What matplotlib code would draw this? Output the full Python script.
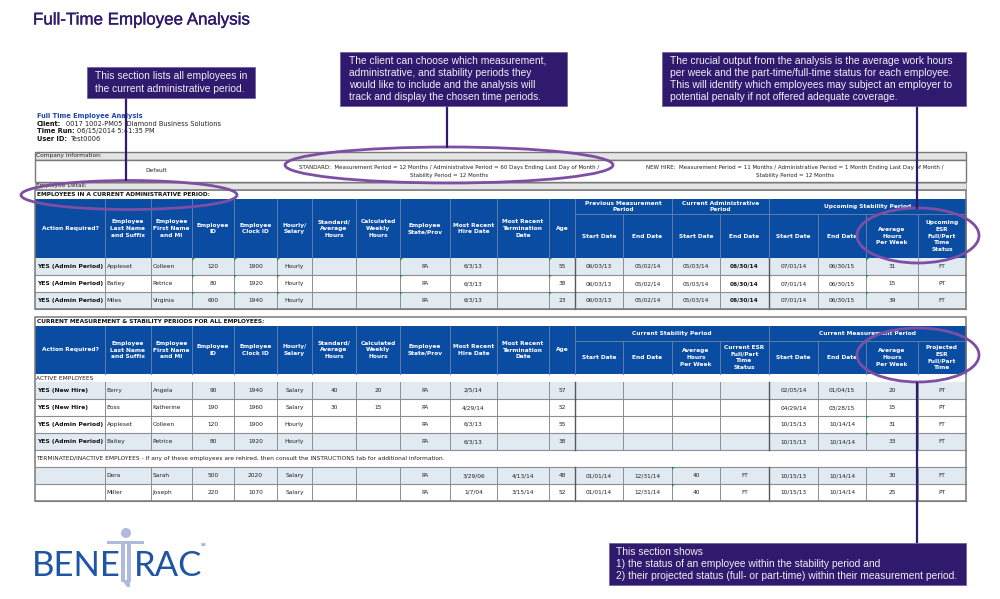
import matplotlib
matplotlib.use("Agg")
import matplotlib.pyplot as plt
import matplotlib.patheffects as pe
from matplotlib.patches import Rectangle, Ellipse, Circle, Polygon

# table contents
title = "Full-Time Employee Analysis"
report_name = "Full Time Employee Analysis"
report_info = [("Client:", "0017 1002-PM05  Diamond Business Solutions"),
               ("Time Run:", "06/15/2014 5:41:35 PM"),
               ("User ID:", "Test0006")]
standard_txt = ["STANDARD:  Measurement Period = 12 Months / Administrative Period = 60 Days Ending Last Day of Month /",
                "Stability Period = 12 Months"]
newhire_txt = ["NEW HIRE:  Measurement Period = 11 Months / Administrative Period = 1 Month Ending Last Day of Month /",
               "Stability Period = 12 Months"]

common_heads = ["Action Required?", "Employee\nLast Name\nand Suffix", "Employee\nFirst Name\nand MI", "Employee\nID",
                "Employee\nClock ID", "Hourly/\nSalary", "Standard/\nAverage\nHours", "Calculated\nWeekly\nHours",
                "Employee\nState/Prov", "Most Recent\nHire Date", "Most Recent\nTermination\nDate", "Age"]

groups1 = [("Previous Measurement\nPeriod", 12, 14), ("Current Administrative\nPeriod", 14, 16), ("Upcoming Stability Period", 16, 20)]
subs1 = ["Start Date", "End Date", "Start Date", "End Date", "Start Date", "End Date",
         "Average\nHours\nPer Week", "Upcoming\nESR\nFull/Part\nTime\nStatus"]
rows1 = [
    ["YES (Admin Period)", "Appleset", "Colleen", "120", "1900", "Hourly", "", "", "PA", "6/3/13", "", "55",
     "06/03/13", "05/02/14", "05/03/14", "06/30/14", "07/01/14", "06/30/15", "31", "FT"],
    ["YES (Admin Period)", "Baitey", "Petrice", "80", "1920", "Hourly", "", "", "PA", "6/3/13", "", "38",
     "06/03/13", "05/02/14", "05/03/14", "06/30/14", "07/01/14", "06/30/15", "15", "PT"],
    ["YES (Admin Period)", "Miles", "Virginia", "600", "1940", "Hourly", "", "", "PA", "6/3/13", "", "23",
     "06/03/13", "05/02/14", "05/03/14", "06/30/14", "07/01/14", "06/30/15", "39", "FT"],
]

groups2 = [("Current Stability Period", 12, 16), ("Current Measurement Period", 16, 20)]
subs2 = ["Start Date", "End Date", "Average\nHours\nPer Week", "Current ESR\nFull/Part\nTime\nStatus",
         "Start Date", "End Date", "Average\nHours\nPer Week", "Projected\nESR\nFull/Part\nTime"]
rows2_active = [
    ["YES (New Hire)", "Berry", "Angela", "90", "1940", "Salary", "40", "20", "PA", "2/5/14", "", "57",
     "", "", "", "", "02/05/14", "01/04/15", "20", "PT"],
    ["YES (New Hire)", "Boss", "Katherine", "190", "1960", "Salary", "30", "15", "PA", "4/29/14", "", "52",
     "", "", "", "", "04/29/14", "03/28/15", "15", "PT"],
    ["YES (Admin Period)", "Appleset", "Colleen", "120", "1900", "Hourly", "", "", "PA", "6/3/13", "", "55",
     "", "", "", "", "10/15/13", "10/14/14", "31", "FT"],
    ["YES (Admin Period)", "Baitey", "Petrice", "80", "1920", "Hourly", "", "", "PA", "6/3/13", "", "38",
     "", "", "", "", "10/15/13", "10/14/14", "33", "FT"],
]
rows2_term = [
    ["", "Dera", "Sarah", "500", "2020", "Salary", "", "", "PA", "3/29/06", "4/13/14", "48",
     "01/01/14", "12/31/14", "40", "FT", "10/15/13", "10/14/14", "30", "FT"],
    ["", "Miller", "Joseph", "220", "1070", "Salary", "", "", "PA", "1/7/04", "3/15/14", "52",
     "01/01/14", "12/31/14", "40", "FT", "10/15/13", "10/14/14", "25", "PT"],
]
active_label = "ACTIVE EMPLOYEES"
term_label = "TERMINATED/INACTIVE EMPLOYEES - If any of these employees are rehired, then consult the INSTRUCTIONS tab for additional information."

callout1 = "This section lists all employees in\nthe current administrative period."
callout2 = ("The client can choose which measurement,\nadministrative, and stability periods they\n"
            "would like to include and the analysis will\ntrack and display the chosen time periods.")
callout3 = ("The crucial output from the analysis is the average work hours\n"
            "per week and the part-time/full-time status for each employee.\n"
            "This will identify which employees may subject an employer to\n"
            "potential penalty if not offered adequate coverage.")
callout4 = ("This section shows\n1) the status of an employee within the stability period and\n"
            "2) their projected status (full- or part-time) within their measurement period.")

# layout, in pixels of the picture
col_x = [35, 105, 151, 192, 234, 277, 312, 356, 400, 450, 497, 549, 575, 623, 672, 720, 769, 818, 866, 918, 966]

BLUE = "#0b4ca3"
ALT = "#e1e9f1"
GRID = "#8b8f93"
DARK = "#55595c"
PURPLE = "#2f1a6d"
RING = "#7d4fa3"
TXT = "#222222"
TABLE_FONT = "DejaVu Sans"
SANS = "Liberation Sans"

fig = plt.figure(figsize=(10, 5.99), dpi=100)
ax = fig.add_axes([0, 0, 1, 1])
ax.set_xlim(0, 1000)
ax.set_ylim(599, 0)
ax.axis("off")


def cell_text(x, y, s, size=4.2, weight="normal", color=TXT, ha="center", lh=1.42):
    ax.text(x, y, s, fontsize=size, fontweight=weight, color=color, ha=ha, va="center",
            family=TABLE_FONT, linespacing=lh, zorder=4)


def header(top, mid, bottom, groups, subs):
    ax.add_patch(Rectangle((col_x[0], top), col_x[-1] - col_x[0], bottom - top, fc=BLUE, ec="none", zorder=2))
    for i, h in enumerate(common_heads):
        cell_text((col_x[i] + col_x[i + 1]) / 2, (top + bottom) / 2, h, weight="bold", color="white")
    for i in range(1, 13):
        ax.plot([col_x[i]] * 2, [top, bottom], color="#5f7ea6", lw=0.7, zorder=3)
    ax.plot([col_x[12], col_x[-1]], [mid, mid], color="#5f7ea6", lw=0.7, zorder=3)
    for g, a, b in groups:
        cell_text((col_x[a] + col_x[b]) / 2, (top + mid) / 2, g, weight="bold", color="white")
        ax.plot([col_x[b]] * 2, [top, mid], color="#5f7ea6", lw=0.7, zorder=3)
    for i, s in enumerate(subs):
        j = i + 12
        cell_text((col_x[j] + col_x[j + 1]) / 2, (mid + bottom) / 2, s, weight="bold", color="white", lh=1.42)
        ax.plot([col_x[j + 1]] * 2, [mid, bottom], color="#5f7ea6", lw=0.7, zorder=3)


def body_row(top, bottom, vals, shaded, marks=()):
    if shaded:
        ax.add_patch(Rectangle((col_x[0], top), col_x[-1] - col_x[0], bottom - top, fc=ALT, ec="none", zorder=1))
    for i, v in enumerate(vals):
        bold = i == 0 or (i == 15 and v == "06/30/14")
        if i == 0:
            cell_text(col_x[0] + 2, (top + bottom) / 2, v, size=4.3, weight="bold", color="#111111", ha="left")
        elif i in (1, 2):
            cell_text(col_x[i] + 1.5, (top + bottom) / 2, v, ha="left")
        else:
            cell_text((col_x[i] + col_x[i + 1]) / 2, (top + bottom) / 2, v, weight="bold" if bold else "normal",
                      color="#111111" if bold else TXT)
    ax.plot([col_x[0], col_x[-1]], [bottom, bottom], color=GRID, lw=0.8, zorder=3)
    for i in range(1, 20):
        c, w = (DARK, 1.0) if i in (12, 16) else (GRID, 0.7)
        ax.plot([col_x[i]] * 2, [top, bottom], color=c, lw=w, zorder=3)
    for m in marks:
        x0 = col_x[m]
        ax.add_patch(Polygon([(x0, top), (x0 + 3, top), (x0, top + 3)], fc="#1f9a3a", ec="none", zorder=5))


def frame(top, bottom):
    ax.add_patch(Rectangle((col_x[0], top), col_x[-1] - col_x[0], bottom - top, fc="none", ec="#77797b", lw=1.1, zorder=3))


# report header
cell_text(37, 116, report_name, size=4.8, weight="bold", color="#1c46a8", ha="left")
for (lab, val), y, vx in zip(report_info, [123.5, 131, 139], [66, 77, 71]):
    cell_text(37, y, lab, size=4.8, weight="bold", color="#111111", ha="left")
    cell_text(vx, y, val, size=4.8, ha="left")

# company information block
ax.add_patch(Rectangle((35, 152), 931, 8, fc="#e4e4e4", ec="#77797b", lw=1.0, zorder=1))
ax.add_patch(Rectangle((35, 160), 931, 22, fc="white", ec="#77797b", lw=1.0, zorder=1))
ax.add_patch(Rectangle((35, 183), 931, 7, fc="#e4e4e4", ec="#a0a0a0", lw=0.6, zorder=1))
cell_text(36.5, 156, "Company Information:", ha="left")
cell_text(156, 171, "Default")
cell_text(449, 167, standard_txt[0], size=3.95)
cell_text(449, 175, standard_txt[1], size=3.95)
cell_text(795, 167, newhire_txt[0], size=3.95)
cell_text(795, 175, newhire_txt[1], size=3.95)
cell_text(36.5, 186, "Employee Detail:", ha="left")
cell_text(37, 194.5, "EMPLOYEES IN A CURRENT ADMINISTRATIVE PERIOD:", size=4.25, weight="bold", color="#111111", ha="left")

# first table
header(199, 214, 258, groups1, subs1)
y_edges = [258, 275, 292, 309]
for k, r in enumerate(rows1):
    body_row(y_edges[k], y_edges[k + 1], r, k != 1, marks=(3, 4, 5, 8, 11, 18))
frame(190, 309)

# second table
cell_text(37, 321.5, "CURRENT MEASUREMENT & STABILITY PERIODS FOR ALL EMPLOYEES:", size=4.25, weight="bold", color="#111111", ha="left")
header(326, 341, 374, groups2, subs2)
cell_text(36.5, 378, active_label, ha="left")
y_edges = [382, 399, 416, 433, 450]
for k, r in enumerate(rows2_active):
    body_row(y_edges[k], y_edges[k + 1], r, k in (0, 3), marks=(18,) if k >= 2 else ())
cell_text(36.5, 458.5, term_label, ha="left")
ax.plot([35, 966], [467, 467], color=GRID, lw=0.8, zorder=3)
y_edges = [467, 484, 501]
for k, r in enumerate(rows2_term):
    body_row(y_edges[k], y_edges[k + 1], r, k == 0, marks=(14,))
frame(317, 501)

# rings round the things the callouts talk about
for cx, cy, w, h in [(129, 195, 216, 29), (449, 165, 328, 36), (918, 235.5, 122, 55), (918, 355, 122, 54)]:
    ax.add_patch(Ellipse((cx, cy), w, h, fc="none", ec=RING, lw=2.0, zorder=6))

# callout boxes and stems
for x0, y0, x1, y1, sx, sy, txt, tx in [
    (87, 67, 255, 98, 126, 181, callout1, 95),
    (340, 52, 567, 106, 447, 148, callout2, 349),
    (662, 52, 966, 106, 917, 209, callout3, 670),
    (609, 543, 966, 585, 917, 382, callout4, 616),
]:
    ax.plot([sx, sx], [y1 if sy > y1 else y0, sy], color=PURPLE, lw=1.6, zorder=7, solid_capstyle="butt")
    ax.add_patch(Rectangle((x0, y0), x1 - x0, y1 - y0, fc=PURPLE, ec="#6a5aa0", lw=0.5, zorder=8))
    ax.text(tx, (y0 + y1) / 2, txt, fontsize=7.4, color="#f0eef6", family=SANS, ha="left", va="center",
            linespacing=1.27, zorder=9)

# title
ax.text(33, 20, title, fontsize=12.2, color=PURPLE, family=SANS, ha="left", va="center",
        path_effects=[pe.withStroke(linewidth=0.25, foreground=PURPLE)])

# logo
LOGO = "#1f55a5"
FIG = "#aebbdd"
ax.add_patch(Circle((126, 533), 5, fc=FIG, ec="none", zorder=1))
ax.add_patch(Rectangle((107, 541), 37, 3, fc=FIG, ec="none", zorder=1))
ax.add_patch(Rectangle((120.5, 541), 4.5, 41, fc=FIG, ec="none", zorder=1))
ax.add_patch(Rectangle((126.5, 541), 4.5, 41, fc=FIG, ec="none", zorder=1))
ax.add_patch(Polygon([(122, 580), (130, 580), (130, 587), (127, 587)], fc=FIG, ec="none", zorder=1))
ax.text(32, 576, "BENE", fontsize=25, color=LOGO, family="Lato", ha="left", va="baseline", zorder=2)
ax.text(134, 576, "RAC", fontsize=25, color=LOGO, family="Lato", ha="left", va="baseline", zorder=2)
ax.text(201, 545, "SM", fontsize=2.6, color=LOGO, family=SANS, ha="left", va="center")

plt.savefig("out.png", dpi=100)
